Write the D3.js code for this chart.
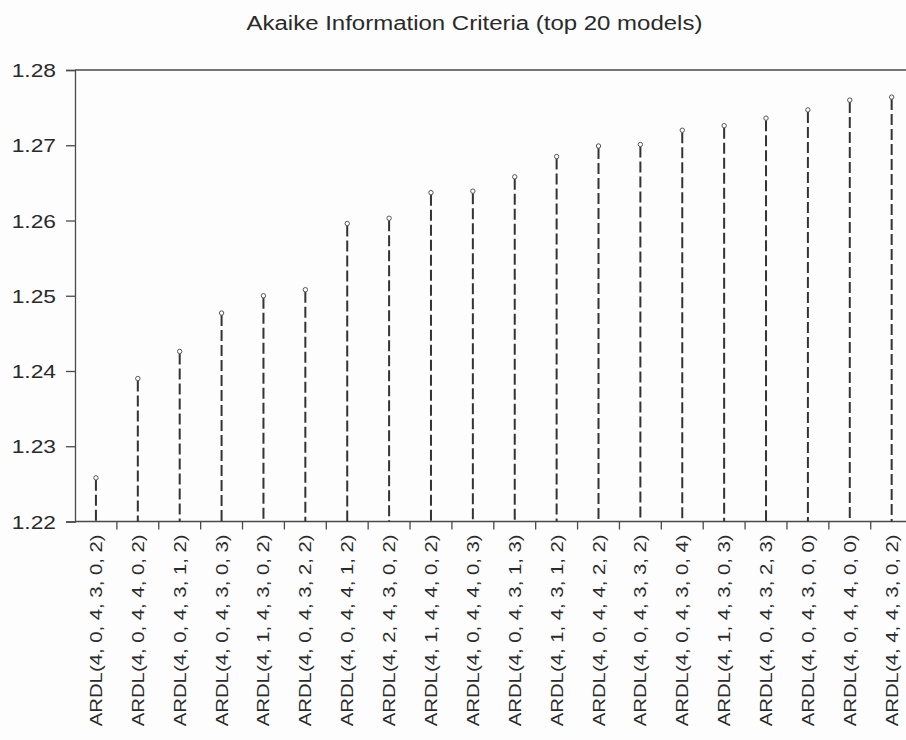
<!DOCTYPE html>
<html>
<head>
<meta charset="utf-8">
<script src="https://cdn.jsdelivr.net/npm/d3@7"></script>
<style>
  html, body { margin: 0; padding: 0; background: #fdfdfd; }
  svg { display: block; }
  text { font-family: "Liberation Sans", Arial, sans-serif; fill: #2a2a2a; }
</style>
</head>
<body>
<svg id="chart" width="906" height="740"></svg>
<script>
// Model specifications, ranked by Akaike information criterion
const categories = [
  "ARDL(4, 0, 4, 3, 0, 2)", "ARDL(4, 0, 4, 4, 0, 2)", "ARDL(4, 0, 4, 3, 1, 2)",
  "ARDL(4, 0, 4, 3, 0, 3)", "ARDL(4, 1, 4, 3, 0, 2)", "ARDL(4, 0, 4, 3, 2, 2)",
  "ARDL(4, 0, 4, 4, 1, 2)", "ARDL(4, 2, 4, 3, 0, 2)", "ARDL(4, 1, 4, 4, 0, 2)",
  "ARDL(4, 0, 4, 4, 0, 3)", "ARDL(4, 0, 4, 3, 1, 3)", "ARDL(4, 1, 4, 3, 1, 2)",
  "ARDL(4, 0, 4, 4, 2, 2)", "ARDL(4, 0, 4, 3, 3, 2)", "ARDL(4, 0, 4, 3, 0, 4)",
  "ARDL(4, 1, 4, 3, 0, 3)", "ARDL(4, 0, 4, 3, 2, 3)", "ARDL(4, 0, 4, 3, 0, 0)",
  "ARDL(4, 0, 4, 4, 0, 0)", "ARDL(4, 4, 4, 3, 0, 2)"
];
const aicValues = [
  1.2258, 1.2390, 1.2426, 1.2477, 1.2500, 1.2508,
  1.2596, 1.2603, 1.2637, 1.2639, 1.2658, 1.2685,
  1.2699, 1.2701, 1.2720, 1.2726, 1.2736, 1.2747,
  1.2760, 1.2764
];
const yTickValues = [1.22, 1.23, 1.24, 1.25, 1.26, 1.27, 1.28];
const yDomain = [1.22, 1.28];
const chartTitle = "Akaike Information Criteria (top 20 models)";

const svg = d3.select("#chart");
const plot = { left: 75, right: 912.6, top: 70, bottom: 521.5 };
const axisColor = "#4a4a4a";
const stretch = 1.23; // glyphs are drawn a little wider than the font's natural width

const x = d3.scaleBand().domain(categories).range([plot.left, plot.right]).padding(0);
const y = d3.scaleLinear().domain(yDomain).range([plot.bottom, plot.top]);

// widen a text element along its reading direction
function widen(sel) {
  sel.each(function () {
    const w = this.getComputedTextLength();
    d3.select(this).attr("textLength", w * stretch).attr("lengthAdjust", "spacingAndGlyphs");
  });
}

// title
svg.append("text")
  .attr("x", 474.5).attr("y", 29.5)
  .attr("text-anchor", "middle")
  .style("font-size", "19.5px")
  .text(chartTitle)
  .call(widen);

// top frame line
svg.append("line")
  .attr("x1", plot.left).attr("x2", plot.right)
  .attr("y1", plot.top).attr("y2", plot.top)
  .attr("stroke", axisColor).attr("stroke-width", 1.3);

// y axis
const yAxis = d3.axisLeft(y).tickValues(yTickValues).tickFormat(d3.format(".2f")).tickSize(9).tickPadding(10);
const gy = svg.append("g").attr("transform", `translate(${plot.left},0)`).call(yAxis);
gy.select(".domain").attr("stroke", axisColor).attr("stroke-width", 1.3);
gy.selectAll(".tick line").attr("stroke", axisColor).attr("stroke-width", 1.3);
gy.selectAll(".tick text")
  .style("font-size", "18.5px").style("font-family", "\"Liberation Sans\", Arial, sans-serif")
  .attr("fill", "#2a2a2a").attr("dy", "0.36em")
  .call(widen);

// x axis: ticks on category boundaries, labels rotated
const gx = svg.append("g").attr("transform", `translate(0,${plot.bottom})`);
gx.append("line")
  .attr("x1", plot.left).attr("x2", plot.right)
  .attr("stroke", axisColor).attr("stroke-width", 1.3);
gx.selectAll("line.tick")
  .data(categories.slice(1))
  .join("line").attr("class", "tick")
  .attr("x1", d => x(d)).attr("x2", d => x(d))
  .attr("y1", 0).attr("y2", 8)
  .attr("stroke", axisColor).attr("stroke-width", 1.3);
gx.selectAll("text.cat")
  .data(categories)
  .join("text").attr("class", "cat")
  .attr("transform", d => `translate(${x(d) + x.bandwidth() / 2 + 6},13) rotate(-90)`)
  .attr("text-anchor", "end")
  .style("font-size", "16.5px")
  .text(d => d)
  .call(widen);

// stems (dashed) and markers
const marks = svg.append("g");
marks.selectAll("line.stem")
  .data(aicValues)
  .join("line").attr("class", "stem")
  .attr("x1", (d, i) => x(categories[i]) + x.bandwidth() / 2)
  .attr("x2", (d, i) => x(categories[i]) + x.bandwidth() / 2)
  .attr("y1", d => y(d) + 2)
  .attr("y2", y(yDomain[0]))
  .attr("stroke", "#333").attr("stroke-width", 2)
  .attr("stroke-dasharray", "11,4");
marks.selectAll("circle.pt")
  .data(aicValues)
  .join("circle").attr("class", "pt")
  .attr("cx", (d, i) => x(categories[i]) + x.bandwidth() / 2)
  .attr("cy", d => y(d))
  .attr("r", 2.2)
  .attr("fill", "#fff").attr("stroke", "#555").attr("stroke-width", 1);
</script>
</body>
</html>
